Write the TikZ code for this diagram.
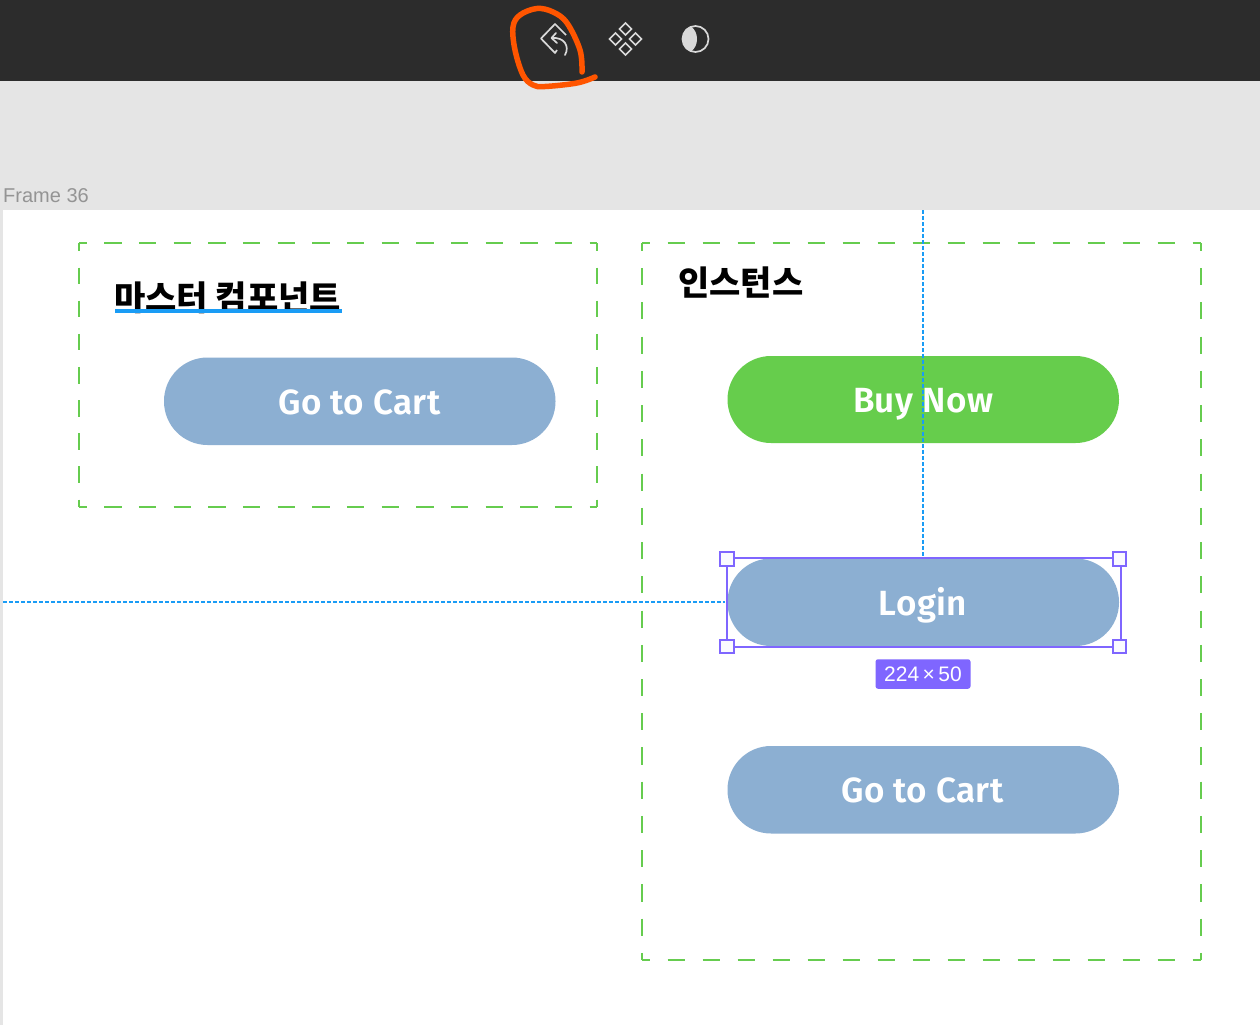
\documentclass[tikz,border=0pt]{standalone}
\usepackage{fontspec}
\setmainfont{Fira Sans}
\newfontfamily\btnfont[LetterSpace=1.2]{Fira Sans SemiBold}
\newfontfamily\krfont{Noto Sans CJK KR}
\newfontfamily\uifont{Liberation Sans}
\usetikzlibrary{calc}
\definecolor{topbar}{HTML}{2C2C2C}
\definecolor{canvasgray}{HTML}{E5E5E5}
\definecolor{dashgreen}{HTML}{66CC4F}
\definecolor{btnblue}{HTML}{8CAFD2}
\definecolor{btngreen}{HTML}{66CD4C}
\definecolor{guideblue}{HTML}{1A9CF5}
\definecolor{selpurple}{HTML}{7F66FF}
\definecolor{handlefill}{HTML}{FAFAFF}
\definecolor{icongray}{HTML}{D9D9D9}
\definecolor{penorange}{HTML}{FF5500}
\tikzset{
  x=1pt,y=-1pt,
  groupside/.style={draw=dashgreen,line width=2pt,dash pattern=on #1pt off #1pt,dash phase=#1pt-8pt},
  pillbtn/.style={fill=btnblue,rounded corners=43.5pt},
  btntext/.style={text=white,font=\btnfont\fontsize{35}{38}\selectfont,inner sep=0pt,anchor=base},
  heading/.style={font=\krfont\fontsize{34}{36}\selectfont\bfseries,text=black,inner sep=0pt},
  guide/.style={draw=guideblue,line width=2pt,dash pattern=on 4pt off 2pt},
  handle/.style={draw=selpurple,fill=handlefill,line width=2pt,minimum size=13.5pt,inner sep=0pt,rectangle},
  icon/.style={draw=icongray,line width=1.7pt},
}
\begin{document}
\begin{tikzpicture}
\useasboundingbox (0,0) rectangle (1260,1025);
% backgrounds
\fill[canvasgray] (0,0) rectangle (1260,1025);
\fill[topbar] (0,0) rectangle (1260,81);
\fill[white] (3,210) rectangle (1260,1025);
\node[anchor=base west,text=black!42,inner sep=0pt,font=\uifont\fontsize{20}{22}\selectfont] (framelabel) at (3,202) {Frame 36};
% toolbar icons
\draw[icon,line join=round] (557,50) -- (555,53) -- (541,38.5) -- (555,24) -- (566,35);
\draw[icon,line cap=round] (565,55) .. controls (570,46) and (564,37) .. (552,38);
\draw[icon,line cap=round,line join=round] (556,33) -- (551.5,38) -- (557,43);
\foreach \dx/\dy in {0/-10,10/0,0/10,-10/0}
  \draw[icon,line join=miter] ($(625.5,39)+(\dx,\dy)$) ++(0,-6) -- ++(6,6) -- ++(-6,6) -- ++(-6,-6) -- cycle;
\draw[icon] (695.5,39) circle (13);
\fill[icongray] (691,26.5) .. controls (685,28) and (682.5,33) .. (682.5,39) .. controls (682.5,45) and (685,50) .. (691,51.5) .. controls (699,46) and (699,32) .. (691,26.5) -- cycle;
% pen stroke
\draw[penorange,line width=5.5pt,line cap=round,line join=round]
  plot[smooth,tension=0.6] coordinates {(582,72) (580,50) (567,23) (553,12) (537,8.5) (520,15) (513,27) (515,50) (523,75) (533,85) (545,86.5) (577,83) (595,77)};
% dashed groups: every side starts and ends with a short dash at its corners
\coordinate (ma) at (79,243);
\coordinate (mb) at (597,243);
\coordinate (mc) at (597,507);
\coordinate (md) at (79,507);
\draw[groupside=17.33] (ma) -- (mb);
\draw[groupside=17.33] (md) -- (mc);
\draw[groupside=16.57] (ma) -- (md);
\draw[groupside=16.57] (mb) -- (mc);
\coordinate (ia) at (642,243);
\coordinate (ib) at (1201,243);
\coordinate (ic) at (1201,960);
\coordinate (id) at (642,960);
\draw[groupside=17.5] (ia) -- (ib);
\draw[groupside=17.5] (id) -- (ic);
\draw[groupside=17.12] (ia) -- (id);
\draw[groupside=17.12] (ib) -- (ic);
% headings
\node[heading,anchor=base west] (mastertitle) at (114,310) {마스터 컴포넌트};
\fill[guideblue] (114.5,309) rectangle (341.5,313);
\node[heading,anchor=base west] (insttitle) at (678,295) {인스턴스};
% buttons
\fill[pillbtn] (164,357.5) rectangle (555.5,445);
\node[btntext] (mastercart) at (359.5,414) {Go to Cart};
\fill[pillbtn,fill=btngreen] (727.5,356) rectangle (1119,443);
\node[btntext] (buynow) at (923,412) {Buy Now};
\fill[pillbtn] (727.5,558.5) rectangle (1119,646);
\node[btntext] (login) at (923,615) {Login};
\fill[pillbtn] (727.5,746) rectangle (1119,833.5);
\node[btntext] (instcart) at (922.5,802.5) {Go to Cart};
% selection
\draw[selpurple,line width=2pt] (726.5,558) rectangle (1120.5,647);
\coordinate (seltop) at (923,557);
\coordinate (selleft) at (725,602);
\coordinate (guidetop) at (923,210);
\coordinate (guideleft) at (3,602);
\draw[guide] (guidetop) -- (seltop);
\draw[guide] (guideleft) -- (selleft);
\node[handle] (h1) at (727,559) {};
\node[handle] (h2) at (1119.5,559) {};
\node[handle] (h3) at (727,646.5) {};
\node[handle] (h4) at (1119.5,646.5) {};
\node[fill=selpurple,text=white,rounded corners=2.5pt,minimum width=95pt,minimum height=29.5pt,inner sep=0pt,font=\uifont\fontsize{21}{23}\selectfont] (sizetag) at (923,674) {224\,×\,50};
\end{tikzpicture}
\end{document}
